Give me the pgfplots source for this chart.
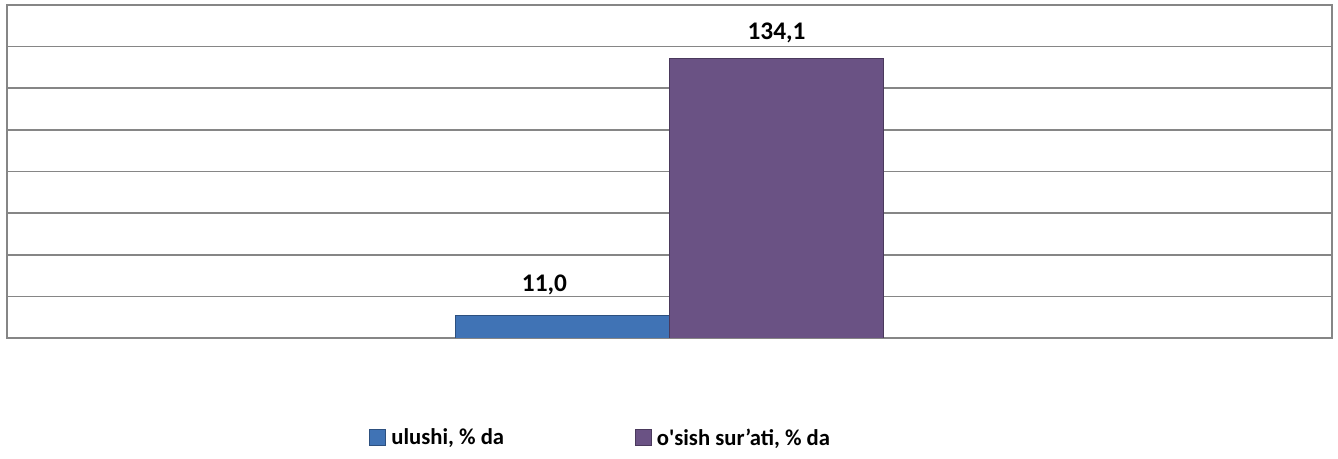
\documentclass[border=0pt]{standalone}
\usepackage{pgfplots}
\pgfplotsset{compat=1.18}
\usepackage{fontspec}
\setmainfont{Carlito}
\newfontfamily\carl{Carlito}
\definecolor{gridc}{RGB}{134,134,134}
\definecolor{bluebar}{RGB}{64,115,181}
\definecolor{purplebar}{RGB}{106,82,132}
\begin{document}
\begin{tikzpicture}[x=0.75pt,y=0.75pt]
\path[use as bounding box] (-7,-121) rectangle (1331,338);
\begin{axis}[
  at={(0,0)}, anchor=south west,
  scale only axis,
  width=993.75pt, height=249.75pt,
  xmin=-0.5, xmax=0.5,
  ymin=0, ymax=160,
  ytick={0,20,...,160},
  yticklabels={},
  xtick=\empty,
  major tick length=0pt,
  ymajorgrids,
  major grid style={draw=gridc, line width=1.3pt},
  axis line style={draw=gridc, line width=1.3pt},
  ybar, bar width=0.1615,
  legend columns=2,
  legend style={at={(axis description cs:0.4483,-0.30)}, anchor=center, draw=none, fill=none,
    font=\fontsize{17}{20}\selectfont\bfseries,
    /tikz/every odd column/.style={column sep=2pt},
    /tikz/every even column/.style={column sep=96pt}},
  legend image code/.code={\fill[#1] (0pt,-6pt) rectangle (12pt,6pt);},
  nodes near coords,
  every node near coord/.append style={font=\fontsize{19}{22}\selectfont\bfseries, anchor=base},
]
\addplot[fill=bluebar, draw=bluebar!70!black, line width=0.6pt, bar shift=-0.0808,
  nodes near coords={11,0},
  every node near coord/.append style={yshift=18pt, xshift=-13.5pt}]
  coordinates {(0,11.0)};
\addplot[fill=purplebar, draw=purplebar!70!black, line width=0.6pt, bar shift=0.0808,
  nodes near coords={134,1},
  every node near coord/.append style={yshift=14.5pt}]
  coordinates {(0,134.1)};
\legend{{ulushi, \% da},{o{\carl '}sish sur’ati, \% da}}
\end{axis}
\end{tikzpicture}
\end{document}
